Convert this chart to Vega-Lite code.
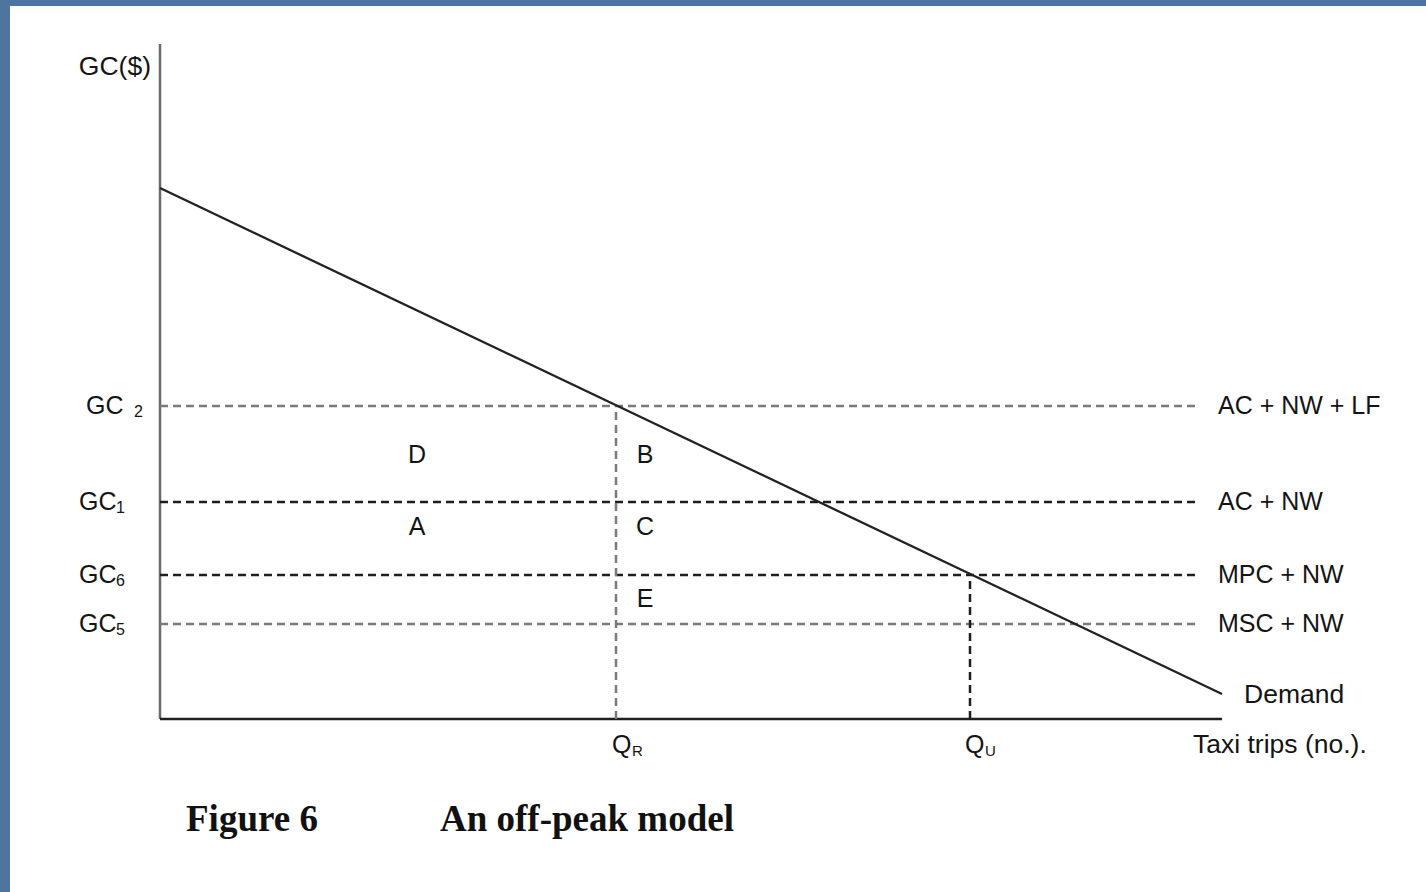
{
  "$schema": "https://vega.github.io/schema/vega-lite/v6.json",
  "width": 1416,
  "height": 886,
  "autosize": {"type": "none"},
  "padding": {"left": 10, "top": 6, "right": 0, "bottom": 0},
  "background": "#4e74a0",
  "config": {
    "view": {"fill": "white", "stroke": null},
    "text": {"font": "Liberation Sans", "fontSize": 25, "fill": "#141414", "baseline": "middle"}
  },
  "datasets": {
    "levels": [
      {"level": "GC2", "gc": 313, "from": 0, "to": 1040, "name": "AC + NW + LF", "namex": 1058, "main": "GC", "mainx": -74, "sub": "2", "subx": -26},
      {"level": "GC1", "gc": 217, "from": 0, "to": 1040, "name": "AC + NW", "namex": 1058, "main": "GC", "mainx": -81, "sub": "1", "subx": -44},
      {"level": "GC6", "gc": 144, "from": 0, "to": 1040, "name": "MPC + NW", "namex": 1058, "main": "GC", "mainx": -81, "sub": "6", "subx": -44},
      {"level": "GC5", "gc": 95, "from": 0, "to": 1040, "name": "MSC + NW", "namex": 1058, "main": "GC", "mainx": -81, "sub": "5", "subx": -44}
    ],
    "quantities": [
      {"q": "QR", "x": 456, "base": 0, "top": 313, "main": "Q", "mainx": 452, "sub": "R", "subx": 472, "laby": -26},
      {"q": "QU", "x": 810, "base": 0, "top": 144, "main": "Q", "mainx": 805, "sub": "U", "subx": 825, "laby": -26}
    ],
    "demand": [
      {"x": 0, "y": 531},
      {"x": 1062, "y": 25}
    ],
    "axes": [
      {"axis": "GC", "x": 0, "x2": 0, "y": 0, "y2": 675},
      {"axis": "trips", "x": 0, "x2": 1062, "y": 0, "y2": 0}
    ],
    "areas": [
      {"label": "D", "x": 257, "y": 264},
      {"label": "B", "x": 485, "y": 264},
      {"label": "A", "x": 257, "y": 192},
      {"label": "C", "x": 485, "y": 192},
      {"label": "E", "x": 485, "y": 120}
    ],
    "texts": [
      {"t": "Taxi trips (no.).", "x": 1033, "y": -26},
      {"t": "Demand", "x": 1084, "y": 24}
    ],
    "ytitle": [
      {"t": "GC($)", "x": -9, "y": 652}
    ],
    "caption": [
      {"t": "Figure 6", "x": 26, "y": -101},
      {"t": "An off-peak model", "x": 280, "y": -101}
    ]
  },
  "layer": [
    {
      "data": {"name": "axes"},
      "mark": {"type": "rule", "strokeWidth": 2.5},
      "encoding": {
        "x": {"field": "x", "type": "quantitative", "scale": {"domain": [-150, 1266], "nice": false, "zero": false}, "axis": null},
        "x2": {"field": "x2"},
        "y": {"field": "y", "type": "quantitative", "scale": {"domain": [-173, 713], "nice": false, "zero": false}, "axis": null},
        "y2": {"field": "y2"},
        "color": {"field": "axis", "type": "nominal", "scale": {"domain": ["GC", "trips"], "range": ["#6a6a6a", "#1e1e1e"]}, "legend": null}
      }
    },
    {
      "data": {"name": "levels"},
      "mark": {"type": "rule", "strokeWidth": 2.5, "strokeDash": [8, 5]},
      "encoding": {
        "x": {"field": "from", "type": "quantitative", "scale": {"domain": [-150, 1266], "nice": false, "zero": false}, "axis": null},
        "x2": {"field": "to"},
        "y": {"field": "gc", "type": "quantitative", "scale": {"domain": [-173, 713], "nice": false, "zero": false}, "axis": null},
        "stroke": {"field": "level", "type": "nominal", "scale": {"domain": ["GC2", "GC1", "GC6", "GC5"], "range": ["#7a7a7a", "#1e1e1e", "#1e1e1e", "#7a7a7a"]}, "legend": null}
      }
    },
    {
      "data": {"name": "quantities"},
      "mark": {"type": "rule", "strokeWidth": 2.5, "strokeDash": [8, 5]},
      "encoding": {
        "x": {"field": "x", "type": "quantitative", "scale": {"domain": [-150, 1266], "nice": false, "zero": false}, "axis": null},
        "y": {"field": "base", "type": "quantitative", "scale": {"domain": [-173, 713], "nice": false, "zero": false}, "axis": null},
        "y2": {"field": "top"},
        "stroke": {"field": "q", "type": "nominal", "scale": {"domain": ["QR", "QU"], "range": ["#222222", "#7a7a7a"]}, "legend": null}
      }
    },
    {
      "data": {"name": "demand"},
      "mark": {"type": "line", "color": "#222222", "strokeWidth": 2.3},
      "encoding": {
        "x": {"field": "x", "type": "quantitative", "scale": {"domain": [-150, 1266], "nice": false, "zero": false}, "axis": null},
        "y": {"field": "y", "type": "quantitative", "scale": {"domain": [-173, 713], "nice": false, "zero": false}, "axis": null}
      }
    },
    {
      "data": {"name": "levels"},
      "mark": {"type": "text", "align": "left"},
      "encoding": {
        "x": {"field": "namex", "type": "quantitative", "scale": {"domain": [-150, 1266], "nice": false, "zero": false}, "axis": null},
        "y": {"field": "gc", "type": "quantitative", "scale": {"domain": [-173, 713], "nice": false, "zero": false}, "axis": null},
        "text": {"field": "name"}
      }
    },
    {
      "data": {"name": "levels"},
      "mark": {"type": "text", "align": "left"},
      "encoding": {
        "x": {"field": "mainx", "type": "quantitative", "scale": {"domain": [-150, 1266], "nice": false, "zero": false}, "axis": null},
        "y": {"field": "gc", "type": "quantitative", "scale": {"domain": [-173, 713], "nice": false, "zero": false}, "axis": null},
        "text": {"field": "main"}
      }
    },
    {
      "data": {"name": "levels"},
      "mark": {"type": "text", "align": "left", "fontSize": 16, "dy": 6},
      "encoding": {
        "x": {"field": "subx", "type": "quantitative", "scale": {"domain": [-150, 1266], "nice": false, "zero": false}, "axis": null},
        "y": {"field": "gc", "type": "quantitative", "scale": {"domain": [-173, 713], "nice": false, "zero": false}, "axis": null},
        "text": {"field": "sub"}
      }
    },
    {
      "data": {"name": "quantities"},
      "mark": {"type": "text", "align": "left"},
      "encoding": {
        "x": {"field": "mainx", "type": "quantitative", "scale": {"domain": [-150, 1266], "nice": false, "zero": false}, "axis": null},
        "y": {"field": "laby", "type": "quantitative", "scale": {"domain": [-173, 713], "nice": false, "zero": false}, "axis": null},
        "text": {"field": "main"}
      }
    },
    {
      "data": {"name": "quantities"},
      "mark": {"type": "text", "align": "left", "fontSize": 15, "dy": 6},
      "encoding": {
        "x": {"field": "subx", "type": "quantitative", "scale": {"domain": [-150, 1266], "nice": false, "zero": false}, "axis": null},
        "y": {"field": "laby", "type": "quantitative", "scale": {"domain": [-173, 713], "nice": false, "zero": false}, "axis": null},
        "text": {"field": "sub"}
      }
    },
    {
      "data": {"name": "areas"},
      "mark": {"type": "text", "align": "center"},
      "encoding": {
        "x": {"field": "x", "type": "quantitative", "scale": {"domain": [-150, 1266], "nice": false, "zero": false}, "axis": null},
        "y": {"field": "y", "type": "quantitative", "scale": {"domain": [-173, 713], "nice": false, "zero": false}, "axis": null},
        "text": {"field": "label"}
      }
    },
    {
      "data": {"name": "texts"},
      "mark": {"type": "text", "align": "left", "fontSize": 26.5},
      "encoding": {
        "x": {"field": "x", "type": "quantitative", "scale": {"domain": [-150, 1266], "nice": false, "zero": false}, "axis": null},
        "y": {"field": "y", "type": "quantitative", "scale": {"domain": [-173, 713], "nice": false, "zero": false}, "axis": null},
        "text": {"field": "t"}
      }
    },
    {
      "data": {"name": "ytitle"},
      "mark": {"type": "text", "align": "right", "fontSize": 26.5},
      "encoding": {
        "x": {"field": "x", "type": "quantitative", "scale": {"domain": [-150, 1266], "nice": false, "zero": false}, "axis": null},
        "y": {"field": "y", "type": "quantitative", "scale": {"domain": [-173, 713], "nice": false, "zero": false}, "axis": null},
        "text": {"field": "t"}
      }
    },
    {
      "data": {"name": "caption"},
      "mark": {"type": "text", "align": "left", "font": "Liberation Serif", "fontWeight": "bold", "fontSize": 37, "fill": "#111111"},
      "encoding": {
        "x": {"field": "x", "type": "quantitative", "scale": {"domain": [-150, 1266], "nice": false, "zero": false}, "axis": null},
        "y": {"field": "y", "type": "quantitative", "scale": {"domain": [-173, 713], "nice": false, "zero": false}, "axis": null},
        "text": {"field": "t"}
      }
    }
  ]
}
